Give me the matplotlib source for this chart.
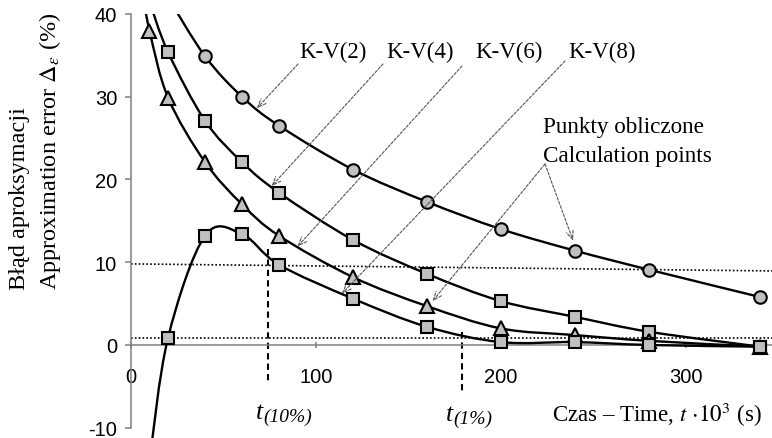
import numpy as np
import matplotlib
matplotlib.use("Agg")
import matplotlib.pyplot as plt
from matplotlib.path import Path
from matplotlib.patches import PathPatch

plt.rcParams["mathtext.fontset"] = "stix"
plt.rcParams["axes.unicode_minus"] = False
SERIF = "Liberation Serif"
SANS = "Liberation Sans"

# Approximation error (%) versus time t*10^3 (s) for the K-V(n) models
x_kv2 = [20, 40, 60, 80, 120, 160, 200, 240, 280, 340]
y_kv2 = [42.0, 34.9, 30.0, 26.5, 21.2, 17.3, 14.0, 11.4, 9.1, 5.8]

x_kv4 = [10, 20, 40, 60, 80, 120, 160, 200, 240, 280, 340]
y_kv4 = [41.5, 35.4, 27.1, 22.1, 18.4, 12.7, 8.6, 5.3, 3.4, 1.6, -0.2]

x_kv6 = [5, 10, 20, 40, 60, 80, 120, 160, 200, 240, 280, 340]
y_kv6 = [44.0, 38.0, 29.9, 22.1, 17.0, 13.2, 8.2, 4.7, 2.0, 1.2, 0.5, -0.2]

x_kv8 = [10, 20, 40, 60, 80, 120, 160, 200, 240, 280, 340]
y_kv8 = [-14.0, 0.85, 13.2, 13.4, 9.7, 5.6, 2.2, 0.35, 0.35, 0.0, -0.2]

# reference error levels and the corresponding times
level_10 = [9.8, 8.95]
level_1 = [0.85, 0.85]
t_10 = 74
t_1 = 179

x_ticks = [0, 100, 200, 300]
y_ticks = [-10, 0, 10, 20, 30, 40]

W, H = 772, 439
fig = plt.figure(figsize=(W / 100, H / 100), dpi=100)

def fpx(x, y):
    """figure fraction from pixel position measured from the top-left"""
    return x / W, 1 - y / H

ax = fig.add_axes([131 / W, 0, (W - 131) / W, (H - 15) / H])
ax.set_xlim(0, 346.5)
ax.set_ylim(-11.24, 40)

for s in ("top", "right"):
    ax.spines[s].set_visible(False)
ax.spines["bottom"].set_position(("data", 0))
ax.spines["left"].set_bounds(-10, 40)
for s in ("bottom", "left"):
    ax.spines[s].set_color("#808080")
    ax.spines[s].set_linewidth(1.1)

ax.set_xticks(x_ticks)
ax.set_yticks(y_ticks)
ax.tick_params(axis="x", direction="inout", length=5, width=1.1, color="#808080",
               pad=13, labelsize=14.5)
ax.tick_params(axis="y", direction="out", length=4, width=1.1, color="#808080",
               pad=6, labelsize=14.5)
for lab in ax.get_xticklabels() + ax.get_yticklabels():
    lab.set_fontfamily(SANS)


def smooth_path(xs, ys):
    """Catmull-Rom style cubic Bezier path through the points."""
    p = np.column_stack([xs, ys]).astype(float)
    ext = np.vstack([p[0], p, p[-1]])
    verts = [p[0]]
    codes = [Path.MOVETO]
    for i in range(1, len(ext) - 2):
        p0, p1, p2, p3 = ext[i - 1], ext[i], ext[i + 1], ext[i + 2]
        c1 = p1 + (p2 - p0) / 6
        c2 = p2 - (p3 - p1) / 6
        verts += [c1, c2, p2]
        codes += [Path.CURVE4] * 3
    return Path(verts, codes)


series = [
    (x_kv2, y_kv2, "o"),
    (x_kv4, y_kv4, "s"),
    (x_kv6, y_kv6, "^"),
    (x_kv8, y_kv8, "s"),
]
for xs, ys, m in series:
    ax.add_patch(PathPatch(smooth_path(xs, ys), facecolor="none", edgecolor="black",
                           lw=1.7, zorder=3))
for xs, ys, m in series:
    ax.plot(xs, ys, ls="none", marker=m, ms=9 if m != "^" else 9.5,
            mfc="#c0c0c0", mec="black", mew=1.5, zorder=4)

# reference levels
ax.plot([0, 346.5], level_10, color="black", lw=1.2, ls=(0, (1, 1.3)), zorder=2)
ax.plot([0, 346.5], level_1, color="black", lw=1.2, ls=(0, (1, 1.3)), zorder=2)
ax.plot([t_10, t_10], [11.6, -4.4], color="black", lw=1.5, ls=(0, (3, 2)), zorder=2,
        clip_on=False)
ax.plot([t_1, t_1], [1.6, -5.6], color="black", lw=1.5, ls=(0, (3, 2)), zorder=2,
        clip_on=False)

# labels for the curves
lab_kw = dict(fontsize=16.5, family=SERIF, ha="center", va="center")
fig.text(*fpx(333, 52), "K-V(2)", **lab_kw)
fig.text(*fpx(420, 52), "K-V(4)", **lab_kw)
fig.text(*fpx(509, 52), "K-V(6)", **lab_kw)
fig.text(*fpx(602, 52), "K-V(8)", **lab_kw)
fig.text(*fpx(543, 127), "Punkty obliczone", fontsize=16.7, family=SERIF,
         ha="left", va="center")
fig.text(*fpx(543, 157), "Calculation points", fontsize=16.7, family=SERIF,
         ha="left", va="center")

arrow_kw = dict(arrowstyle="->,head_length=0.6,head_width=0.25", color="#555555",
                lw=0.8, ls=(0, (2.5, 1.5)), shrinkA=0, shrinkB=0)
pointers = [
    ((298, 65), (68, 28.6)),
    ((383, 65), (76, 19.2)),
    ((462, 67), (90, 11.9)),
    ((565, 62), (114, 6.2)),
    ((545, 165), (163, 5.3)),
    ((545, 165), (239, 12.6)),
]
for (sx, sy), xy in pointers:
    ax.annotate("", xy=xy, xycoords="data", xytext=(sx, H - sy),
                textcoords="figure pixels", arrowprops=arrow_kw, zorder=5)

# time markers: italic t with an italic subscript
def t_label(x, y, sub):
    fig.text(*fpx(x, y), "t", fontsize=18.5, family=SERIF, style="italic",
             ha="left", va="baseline")
    fig.text(*fpx(x + 7, y + 3), sub, fontsize=14, family=SERIF, style="italic",
             ha="left", va="baseline")

t_label(256, 419, "(10%)")
t_label(446, 421, "(1%)")

fig.text(*fpx(552, 422), r"Czas – Time, $t\,\cdot\!10^3$ (s)", fontsize=16.5,
         family=SERIF, ha="left", va="baseline")

fig.text(*fpx(20, 290), "Błąd aproksymacji", fontsize=17.5, family=SERIF,
         rotation=90, rotation_mode="anchor", ha="left", va="center")
fig.text(*fpx(50, 290), r"Approximation error $\Delta_{\varepsilon}$ (%)",
         fontsize=17.5, family=SERIF, rotation=90, rotation_mode="anchor",
         ha="left", va="center")

fig.savefig("out.png", dpi=100)
